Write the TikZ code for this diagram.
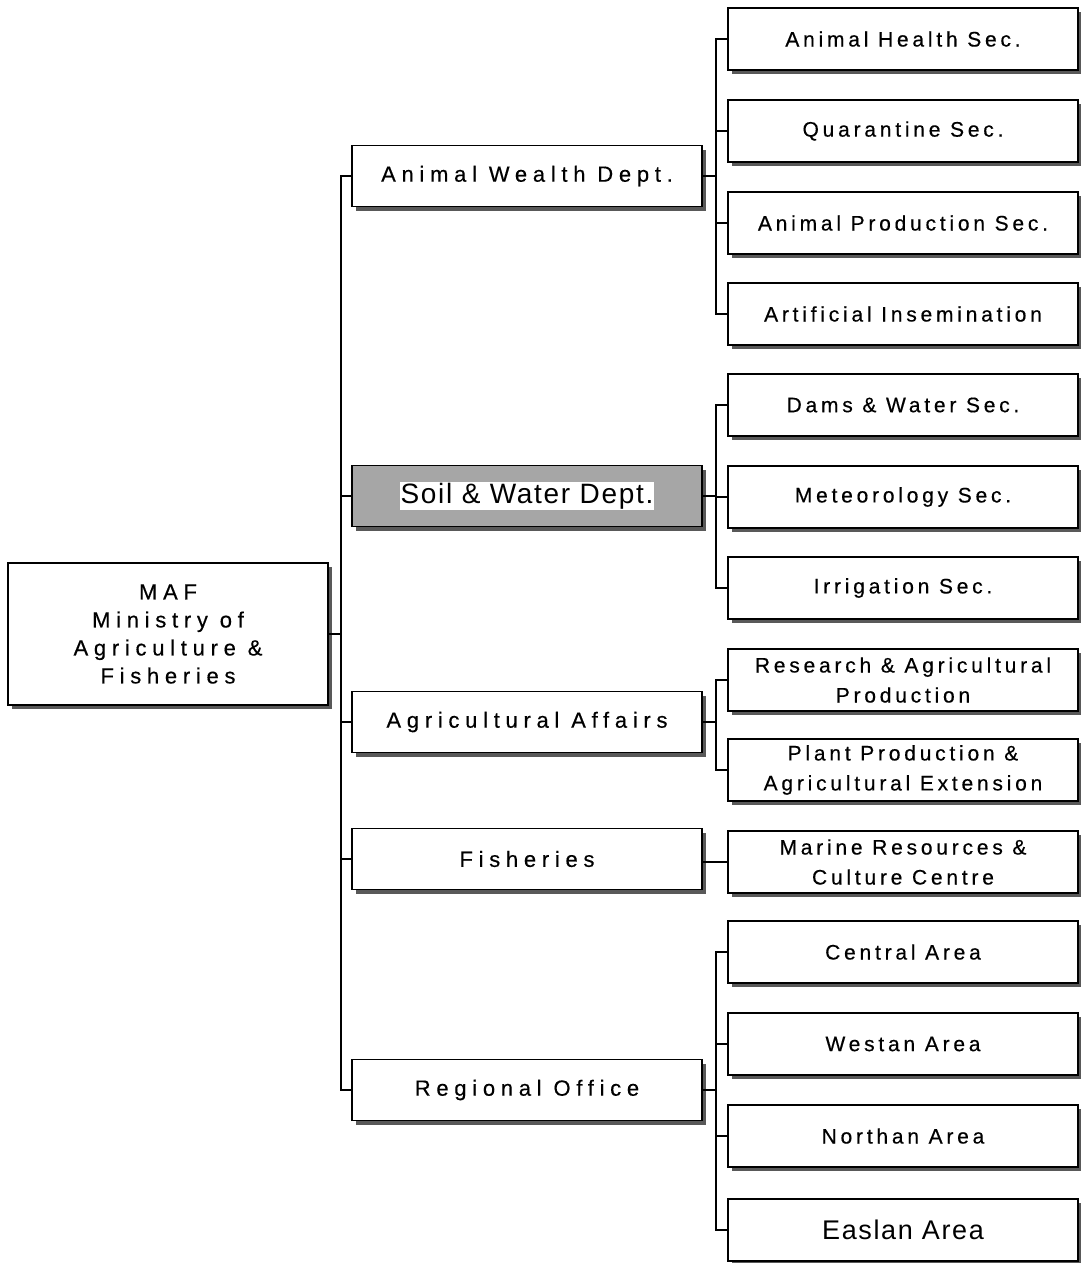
\documentclass[tikz,border=0pt]{standalone}
\usepackage{fontspec}
\setmainfont{Liberation Sans}
\newfontfamily\widefont[LetterSpace=26, FakeBold=0.4]{Liberation Sans}
\newfontfamily\secfont[LetterSpace=18, FakeBold=0.4]{Liberation Sans}
\newfontfamily\bigfont[LetterSpace=6]{Liberation Sans}
\usetikzlibrary{shadows}
\tikzset{
  box/.style={draw=black, line width=1.3pt, fill=white, rectangle, align=center,
    drop shadow={shadow xshift=4pt, shadow yshift=-4pt, fill=black!65, opacity=1}},
  dept/.style={box, minimum width=350pt, minimum height=61pt, font=\widefont\fontsize{22}{27}\selectfont},
  sec/.style={box, minimum width=350pt, minimum height=62pt, font=\secfont\fontsize{21}{30}\selectfont},
  conn/.style={line width=1.2pt, black},
}
\begin{document}
\begin{tikzpicture}[x=1pt, y=-1pt]
\useasboundingbox (0,0) rectangle (1081,1263);
% root
\node[box, minimum width=320pt, minimum height=142pt, font=\widefont\fontsize{22}{28}\selectfont] (maf) at (168,634) {MAF\\Ministry of\\Agriculture \&\\Fisheries};
% departments
\node[dept] (aw) at (527,176) {Animal Wealth Dept.};
\node[dept, fill=black!35] (sw) at (527,496) {};
\node[fill=white, inner sep=1pt, font=\bigfont\fontsize{28}{30}\selectfont] (swt) at (sw.center) {Soil \& Water Dept.};
\node[dept] (aa) at (527,722) {Agricultural Affairs};
\node[dept] (fi) at (527,859) {Fisheries};
\node[dept] (ro) at (527,1090) {Regional Office};
% sections
\node[sec] (ah) at (903,39) {Animal Health Sec.};
\node[sec] (qs) at (903,131) {Quarantine Sec.};
\node[sec] (ap) at (903,223) {Animal Production Sec.};
\node[sec] (ai) at (903,314) {Artificial Insemination};
\node[sec] (dw) at (903,405) {Dams \& Water Sec.};
\node[sec] (me) at (903,497) {Meteorology Sec.};
\node[sec] (ir) at (903,588) {Irrigation Sec.};
\node[sec] (ra) at (903,680) {Research \& Agricultural\\Production};
\node[sec] (pp) at (903,770) {Plant Production \&\\Agricultural Extension};
\node[sec] (mr) at (903,862) {Marine Resources \&\\Culture Centre};
\node[sec] (ce) at (903,952) {Central Area};
\node[sec] (we) at (903,1044) {Westan Area};
\node[sec] (no) at (903,1136) {Northan Area};
\node[sec, font=\bigfont\fontsize{27}{30}\selectfont] (ea) at (903,1230) {Easlan Area};
% trunk coordinates
\coordinate (T) at (341,0);
\coordinate (S) at (716,0);
% main trunk
\draw[conn] (maf.east) -- (maf.east -| T);
\draw[conn] (aw.west) -- (aw.west -| T) -- (ro.west -| T) -- (ro.west);
\foreach \n in {sw,aa,fi} \draw[conn] (\n.west) -- (\n.west -| T);
% animal wealth group
\draw[conn] (aw.east) -- (aw.east -| S);
\draw[conn] (ah.west) -- (ah.west -| S) -- (ai.west -| S) -- (ai.west);
\foreach \n in {qs,ap} \draw[conn] (\n.west) -- (\n.west -| S);
% soil group
\draw[conn] (sw.east) -- (sw.east -| S);
\draw[conn] (dw.west) -- (dw.west -| S) -- (ir.west -| S) -- (ir.west);
\draw[conn] (me.west) -- (me.west -| S);
% agricultural affairs group
\draw[conn] (aa.east) -- (aa.east -| S);
\draw[conn] (ra.west) -- (ra.west -| S) -- (pp.west -| S) -- (pp.west);
% fisheries
\draw[conn] (fi.east |- mr.west) -- (mr.west);
% regional group
\draw[conn] (ro.east) -- (ro.east -| S);
\draw[conn] (ce.west) -- (ce.west -| S) -- (ea.west -| S) -- (ea.west);
\foreach \n in {we,no} \draw[conn] (\n.west) -- (\n.west -| S);
\end{tikzpicture}
\end{document}
